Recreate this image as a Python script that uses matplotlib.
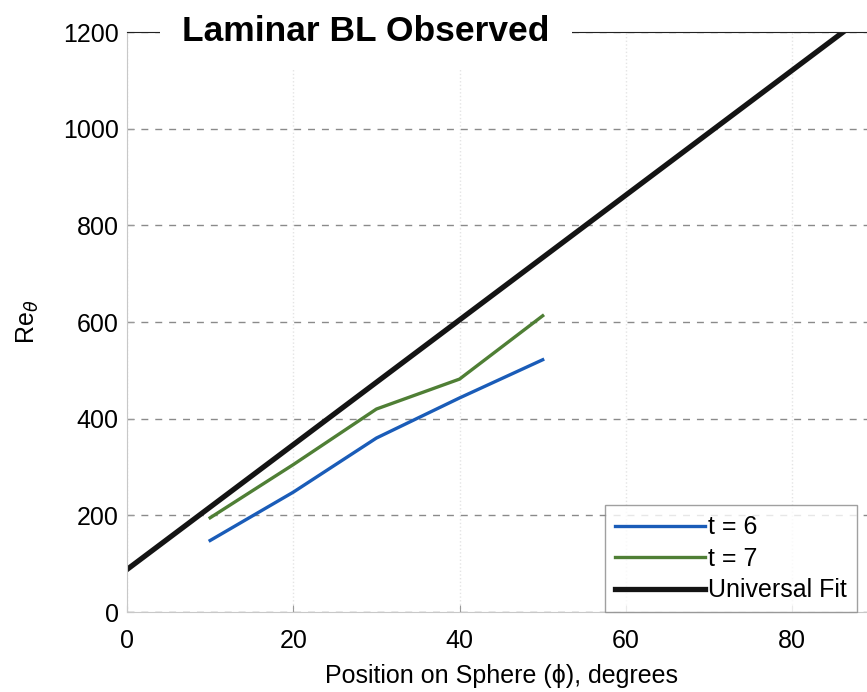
import matplotlib.pyplot as plt

plt.rcParams['font.family'] = ['Liberation Sans', 'DejaVu Sans']

# data
phi = [10, 20, 30, 40, 50]
re_t6 = [148, 248, 360, 443, 522]
re_t7 = [195, 305, 420, 482, 613]
fit_phi = [0, 90]
fit_re = [88, 1250]

xticks = [0, 20, 40, 60, 80]
yticks = [0, 200, 400, 600, 800, 1000, 1200]

fig = plt.figure(figsize=(8.67, 6.92), dpi=100)
ax = fig.add_axes([0.1465, 0.1156, 0.863, 0.838])

ax.plot(phi, re_t6, color='#1a5cb8', lw=2.4, label='t = 6')
ax.plot(phi, re_t7, color='#4f7f35', lw=2.4, label='t = 7')
ax.plot(fit_phi, fit_re, color='#141414', lw=3.8, label='Universal Fit')

ax.set_xlim(0, 90)
ax.set_ylim(0, 1200)
ax.set_xticks(xticks)
ax.set_yticks(yticks)

# grid: dashed horizontal, very faint vertical
ax.yaxis.grid(True, ls=(0, (5, 5)), color='#8a8a8a', lw=1.0)
ax.xaxis.grid(True, ls=':', color='#e4e4e4', lw=1.0)

for s in ['left', 'bottom']:
    ax.spines[s].set_color('#c8c8c8')
ax.spines['top'].set_color('#222222')
ax.spines['top'].set_linewidth(0.8)
ax.spines['right'].set_visible(False)

ax.tick_params(direction='in', length=5, color='#999999', labelsize=18, pad=6)
ax.tick_params(axis='x', pad=12)

ax.set_xlabel('Position on Sphere (ϕ), degrees', fontsize=18, labelpad=8)
ax.set_ylabel(r'Re$_\theta$', fontsize=18, labelpad=16)

fig.text(0.422, 0.955, 'Laminar BL Observed', fontsize=25.5, fontweight='bold',
         ha='center', va='center',
         bbox=dict(facecolor='white', edgecolor='none', pad=16))

leg = ax.legend(loc='lower right', bbox_to_anchor=(0.988, 0.115),
                bbox_transform=fig.transFigure, fontsize=18, frameon=True,
                fancybox=False, edgecolor='#888888', handlelength=3.6,
                handletextpad=0.1, borderpad=0.4, labelspacing=0.3,
                borderaxespad=0)
leg.get_frame().set_linewidth(1.0)

fig.savefig('out.png', dpi=100)
